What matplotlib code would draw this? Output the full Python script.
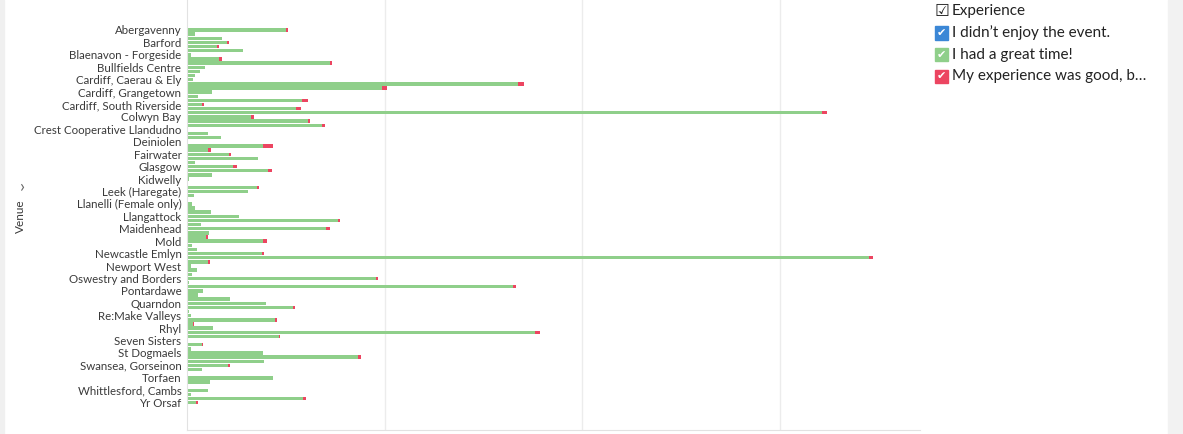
import matplotlib.pyplot as plt
from matplotlib.patches import Rectangle
import numpy as np

# venue names shown on the axis (every third venue is labelled)
venue_labels = [
    "Abergavenny", "Barford", "Blaenavon - Forgeside", "Bullfields Centre",
    "Cardiff, Caerau & Ely", "Cardiff, Grangetown", "Cardiff, South Riverside",
    "Colwyn Bay", "Crest Cooperative Llandudno", "Deiniolen", "Fairwater",
    "Glasgow", "Kidwelly", "Leek (Haregate)", "Llanelli (Female only)",
    "Llangattock", "Maidenhead", "Mold", "Newcastle Emlyn", "Newport West",
    "Oswestry and Borders", "Pontardawe", "Quarndon", "Re:Make Valleys",
    "Rhyl", "Seven Sisters", "St Dogmaels", "Swansea, Gorseinon", "Torfaen",
    "Whittlesford, Cambs", "Yr Orsaf",
]

# responses per venue (91 venues, top to bottom)
great_time = [
    99, 8, 35, 40, 30, 56, 4, 32, 143, 18,
    13, 8, 6, 331, 195, 25, 11, 115, 15, 109,
    635, 64, 121, 135, 0, 21, 34, 0, 76, 21,
    42, 71, 8, 46, 81, 25, 2, 1, 70, 61,
    7, 0, 5, 8, 24, 52, 151, 14, 139, 22,
    19, 76, 5, 10, 75, 682, 21, 4, 10, 5,
    189, 2, 326, 16, 11, 43, 79, 106, 2, 4,
    88, 6, 26, 348, 92, 1, 15, 4, 76, 171,
    77, 41, 15, 1, 86, 23, 0, 21, 4, 116,
    9,
]
good_but = [
    2, 0, 0, 2, 2, 0, 0, 3, 2, 0,
    0, 0, 0, 6, 5, 0, 0, 6, 2, 5,
    4.5, 3, 2, 3, 0, 0, 0, 0, 10, 2.5,
    1.7, 0, 0, 4.3, 4.3, 0, 0, 0, 1.7, 0,
    0, 0, 0, 0, 0, 0, 1.7, 0, 3.7, 0,
    2, 4.3, 0, 0, 2.3, 3.5, 1.7, 0, 0, 0,
    2.3, 0, 3.3, 0, 0, 0, 0, 1.7, 0, 0,
    2, 1.3, 0, 5, 1, 0, 1.3, 0, 0, 3.3,
    0, 2.3, 0, 0, 0, 0, 0, 0, 0, 3.3,
    2.3,
]
didnt_enjoy = [0] * 91

legend_items = ["I didn\u2019t enjoy the event.", "I had a great time!",
                "My experience was good, b\u2026"]
colors = ["#3b87d6", "#8fcf8a", "#ec4561"]

plt.rcParams['font.family'] = ['Lato', 'DejaVu Sans']

W, H = 1183, 434
fig = plt.figure(figsize=(W / 100, H / 100), dpi=100)
fig.patch.set_facecolor("white")
# light screenshot margins
fig.patches.append(Rectangle((1168 / W, 0), 15 / W, 1, transform=fig.transFigure,
                             color="#f2f2f2", zorder=0))
fig.patches.append(Rectangle((0, 0), 4 / W, 1, transform=fig.transFigure,
                             color="#f0f0f0", zorder=0))

ax = fig.add_axes([187 / W, 4 / H, (920 - 187) / W, 430 / H])
ax.set_facecolor("none")
ax.set_zorder(1)

y = np.arange(len(great_time))
blue = np.array(didnt_enjoy, dtype=float)
green = np.array(great_time, dtype=float)
red = np.array(good_but, dtype=float)
ax.barh(y, blue, height=0.82, color=colors[0], zorder=2)
ax.barh(y, green, left=blue, height=0.82, color=colors[1], zorder=2)
ax.barh(y, red, left=blue + green, height=0.82, color=colors[2], zorder=2)

ax.set_xlim(0, 733)
ax.set_ylim(96.6, -7.24)
ax.set_xticks(np.arange(1, 4) * 197.5)
ax.set_xticklabels([])
ax.tick_params(axis='x', length=0)
ax.grid(axis='x', color="#ececec", linewidth=1, zorder=0)
ax.set_yticks(np.arange(0, len(great_time), 3))
ax.set_yticklabels(venue_labels, fontsize=8.3, color="#3a3a3a")
ax.tick_params(axis='y', length=0, pad=4)
for s in ["top", "right"]:
    ax.spines[s].set_visible(False)
for s in ["left", "bottom"]:
    ax.spines[s].set_color("#e2e2e2")

fig.text(20 / W, 1 - 216 / H, "Venue", rotation=90, fontsize=8.5,
         color="#3a3a3a", ha='center', va='center', zorder=5)
fig.text(22 / W, 1 - 187 / H, "\u203a", fontsize=13, color="#666666",
         ha='center', va='center', zorder=5)

# legend
lx = 935
fig.text(lx / W, 1 - 11 / H, "\u2611", fontsize=12, color="#222222",
         family="DejaVu Sans", ha='left', va='center', zorder=5)
fig.text(952 / W, 1 - 11 / H, "Experience", fontsize=11, color="#222222",
         ha='left', va='center', zorder=5)
for i, (lab, c) in enumerate(zip(legend_items, colors)):
    yc = 33 + i * 21.6
    fig.patches.append(Rectangle((lx / W, 1 - (yc + 6.5) / H), 13 / W, 13 / H,
                                 transform=fig.transFigure, color=c, zorder=3))
    fig.text((lx + 6.5) / W, 1 - yc / H, "\u2714", fontsize=8, color="white",
             family="DejaVu Sans", ha='center', va='center', zorder=5)
    fig.text(952 / W, 1 - yc / H, lab, fontsize=11, color="#222222",
             ha='left', va='center', zorder=5)

fig.savefig("out.png", dpi=100)
